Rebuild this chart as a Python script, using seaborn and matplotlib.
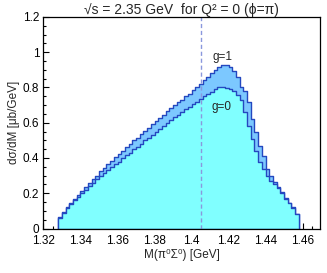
import numpy as np
import pandas as pd
import matplotlib
matplotlib.use("Agg")
import matplotlib.pyplot as plt
from matplotlib.ticker import MultipleLocator, FuncFormatter
import seaborn as sns

# ---- data ----
bin_start = 1.328
bin_width = 0.002
g1_values = [0.065, 0.095, 0.12, 0.145, 0.17, 0.19, 0.21, 0.235, 0.26, 0.28,
             0.30, 0.325, 0.345, 0.365, 0.385, 0.405, 0.42, 0.44, 0.46, 0.48,
             0.50, 0.515, 0.535, 0.555, 0.57, 0.59, 0.61, 0.625, 0.645, 0.665,
             0.685, 0.70, 0.715, 0.73, 0.75, 0.765, 0.785, 0.80, 0.82, 0.84,
             0.86, 0.88, 0.90, 0.915, 0.925, 0.925, 0.915, 0.895, 0.86, 0.80,
             0.78, 0.72, 0.62, 0.55, 0.47, 0.41, 0.34, 0.30, 0.265, 0.235,
             0.205, 0.175, 0.145, 0.12, 0.08]
g0_values = [0.06, 0.09, 0.115, 0.14, 0.16, 0.18, 0.20, 0.22, 0.24, 0.26,
             0.28, 0.30, 0.315, 0.33, 0.35, 0.365, 0.38, 0.40, 0.415, 0.43,
             0.45, 0.465, 0.48, 0.50, 0.515, 0.53, 0.55, 0.565, 0.58, 0.60,
             0.615, 0.63, 0.645, 0.66, 0.675, 0.69, 0.705, 0.72, 0.735, 0.75,
             0.765, 0.775, 0.79, 0.80, 0.80, 0.795, 0.79, 0.78, 0.76, 0.73,
             0.66, 0.58, 0.51, 0.44, 0.38, 0.34, 0.30, 0.27, 0.25, 0.23,
             0.20, 0.17, 0.145, 0.115, 0.08]
threshold = 1.405
series_labels = ["g=1", "g=0"]
title = "\u221as = 2.35 GeV  for Q\u00b2 = 0 (\u03d5=\u03c0)"
xlabel = "M(\u03c0\u2070\u03a3\u2070) [GeV]"
ylabel = "d\u03c3/dM [\u03bcb/GeV]"

n = len(g1_values)
bin_stop = bin_start + bin_width * n
centers = bin_start + bin_width * (np.arange(n) + 0.5)
df1 = pd.DataFrame({"M": centers, "w": g1_values})
df0 = pd.DataFrame({"M": centers, "w": g0_values})

sns.set_style("ticks")
plt.rcParams["font.family"] = ["Liberation Sans", "DejaVu Sans"]
plt.rcParams["font.size"] = 8.5

fig = plt.figure(figsize=(3.27, 2.73), dpi=100)
ax = fig.add_axes([0.133, 0.163, 0.846, 0.775])

line_col = "#2448c0"
sns.histplot(data=df1, x="M", weights="w", bins=n, binrange=(bin_start, bin_stop),
             element="step", fill=True, color="#7cc8ff", alpha=1,
             edgecolor=line_col, linewidth=1.0, ax=ax)
sns.histplot(data=df0, x="M", weights="w", bins=n, binrange=(bin_start, bin_stop),
             element="step", fill=True, color="#80ffff", alpha=1,
             edgecolor=line_col, linewidth=1.0, ax=ax)

ax.axvline(threshold, color="#8a98dd", linestyle=(0, (3, 2)), linewidth=1.0)

ax.text(1.417, 0.97, series_labels[0], ha="center", va="center", fontsize=8.5)
ax.text(1.416, 0.69, series_labels[1], ha="center", va="center", fontsize=8.5)

ax.set_xlim(1.32, 1.4695)
ax.set_ylim(0, 1.2)
ax.xaxis.set_major_locator(MultipleLocator(0.02))
ax.xaxis.set_minor_locator(MultipleLocator(0.005))
ax.yaxis.set_major_locator(MultipleLocator(0.2))
ax.yaxis.set_minor_locator(MultipleLocator(0.05))
fmt = FuncFormatter(lambda v, p: ("%.2f" % v).rstrip("0").rstrip("."))
ax.xaxis.set_major_formatter(fmt)
ax.yaxis.set_major_formatter(fmt)
ax.tick_params(which="both", direction="in", top=False, right=False,
               labelsize=8.5, width=0.8, colors="black")
ax.tick_params(which="major", length=4)
ax.tick_params(axis="x", which="major", pad=5)
ax.tick_params(axis="y", which="major", pad=3)
ax.tick_params(which="minor", length=2)
for s in ax.spines.values():
    s.set_linewidth(0.9)
    s.set_color("black")

ax.set_title(title, fontsize=10, pad=2)
ax.set_xlabel(xlabel, fontsize=8.5, labelpad=1)
ax.set_ylabel(ylabel, fontsize=8.5, labelpad=2)

fig.savefig("out.png", dpi=100)
